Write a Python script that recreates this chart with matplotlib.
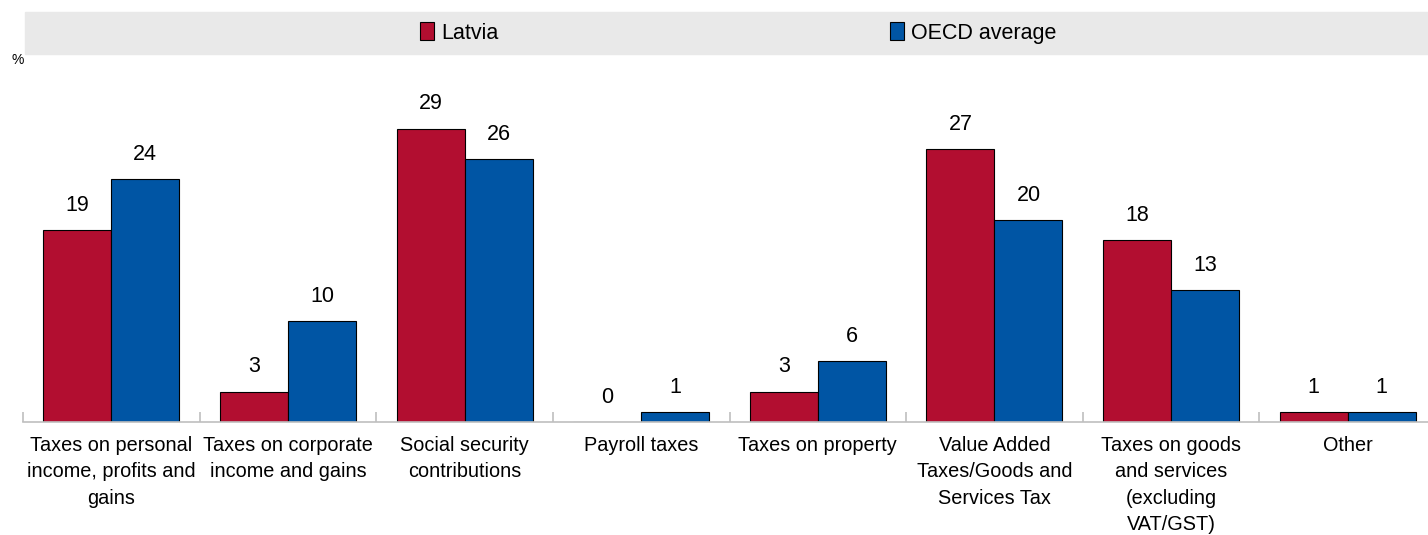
import matplotlib
matplotlib.use("Agg")
import matplotlib.pyplot as plt
import matplotlib.patches as mpatches
import numpy as np

plt.rcParams['font.family'] = ['Liberation Sans', 'DejaVu Sans']

categories = [
    "Taxes on personal\nincome, profits and\ngains",
    "Taxes on corporate\nincome and gains",
    "Social security\ncontributions",
    "Payroll taxes",
    "Taxes on property",
    "Value Added\nTaxes/Goods and\nServices Tax",
    "Taxes on goods\nand services\n(excluding\nVAT/GST)",
    "Other",
]
latvia = [19, 3, 29, 0, 3, 27, 18, 1]
oecd = [24, 10, 26, 1, 6, 20, 13, 1]

red = "#b20e30"
blue = "#0055a4"

fig = plt.figure(figsize=(14.28, 5.35), dpi=100)
ax = fig.add_axes([23 / 1428, 113 / 535, 1413 / 1428, 350 / 535])

x = np.arange(len(categories))
w = 0.385
b1 = ax.bar(x - w / 2, latvia, w, color=red, edgecolor="black", linewidth=0.8, label="Latvia")
b2 = ax.bar(x + w / 2, oecd, w, color=blue, edgecolor="black", linewidth=0.8, label="OECD average")

for bars, vals in ((b1, latvia), (b2, oecd)):
    for rect, v in zip(bars, vals):
        ax.text(rect.get_x() + rect.get_width() / 2, v + 1.4, str(v),
                ha="center", va="bottom", fontsize=15.5)

ax.set_xlim(-0.5, len(categories) - 0.5)
ax.set_ylim(0, 34.6)
for s in ("top", "right", "left"):
    ax.spines[s].set_visible(False)
ax.spines["bottom"].set_color("#bfbfbf")
ax.spines["bottom"].set_linewidth(1.2)
ax.set_yticks([])

# category boundaries get the tick marks, labels sit at the centres
ax.set_xticks(np.arange(len(categories) + 1) - 0.5)
ax.set_xticklabels([])
ax.tick_params(axis="x", direction="in", length=7, color="#bfbfbf", width=1.2)
ax.set_xticks(x, minor=True)
ax.set_xticklabels(categories, minor=True, fontsize=14.3, linespacing=1.5, va="top")
ax.tick_params(axis="x", which="minor", length=0, pad=10)

# legend band
fig.patches.append(mpatches.Rectangle((25 / 1428, 1 - 54 / 535), 1403 / 1428, 42 / 535,
                                      transform=fig.transFigure, color="#e9e9e9", zorder=0))
legend_kw = dict(loc="center left", frameon=False, fontsize=15.5, handlelength=0.65,
                 handleheight=0.85, handletextpad=0.3)
fig.legend(handles=[b1], bbox_to_anchor=(401 / 1428, 1 - 33 / 535), **legend_kw)
fig.legend(handles=[b2], bbox_to_anchor=(871 / 1428, 1 - 33 / 535), **legend_kw)

fig.text(12 / 1428, 1 - 60 / 535, "%", fontsize=10, va="center")

fig.savefig("out.png", dpi=100)
